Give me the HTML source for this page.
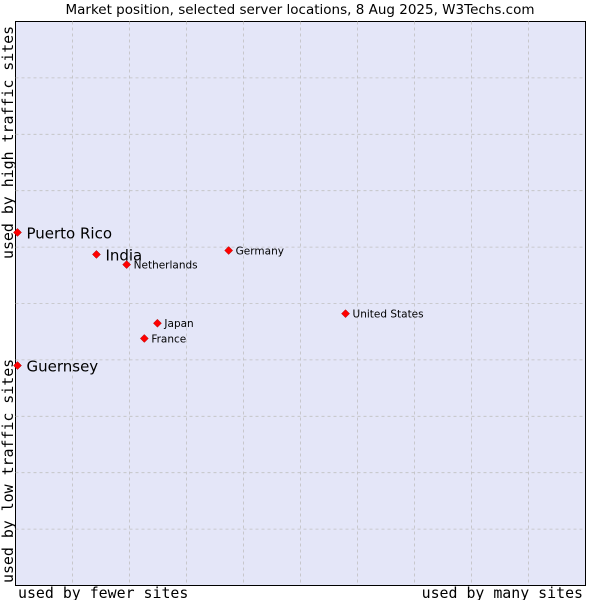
<!DOCTYPE html>
<html><head><meta charset="utf-8"><style>
body{margin:0;background:#fff;width:600px;height:600px;overflow:hidden}
svg{font-family:"DejaVu Sans","Liberation Sans",sans-serif}
</style></head><body>
<svg width="600" height="600">
<text x="300" y="14" text-anchor="middle" font-size="13.5" fill="#000">Market position, selected server locations, 8 Aug 2025, W3Techs.com</text>
<rect x="15.5" y="21.5" width="570" height="564" fill="#e4e6f8" stroke="#000"/>
<g id="grid"></g>
<g id="pts"></g>
<text x="18" y="598" font-family="DejaVu Sans Mono, Liberation Mono, monospace" font-size="14.9">used by fewer sites</text>
<text x="583" y="598" text-anchor="end" font-family="DejaVu Sans Mono, Liberation Mono, monospace" font-size="14.9">used by many sites</text>
<text transform="translate(13,583) rotate(-90)" font-family="DejaVu Sans Mono, Liberation Mono, monospace" font-size="14.9">used by low traffic sites</text>
<text transform="translate(13,259) rotate(-90)" font-family="DejaVu Sans Mono, Liberation Mono, monospace" font-size="14.9">used by high traffic sites</text>
</svg>
<script>
const labels=["Puerto Rico","India","Netherlands","Germany","United States","Japan","France","Guernsey"];
const xs=[0.35,14.2,19.5,37.4,57.9,24.9,22.6,0.35];
const ys=[62.6,58.7,56.9,59.4,48.2,46.5,43.8,39.0];
const big=[true,true,false,false,false,false,false,true];
const L=15.5,T=21.5,W=570,H=564;
const sx=v=>L+v/100*W, sy=v=>T+H-v/100*H;
const ns="http://www.w3.org/2000/svg";
const g=document.getElementById('grid');
for(let i=1;i<10;i++){
 const a=document.createElementNS(ns,'line');
 
 
 a.setAttribute('x1',L+i*W/10);a.setAttribute('x2',L+i*W/10);a.setAttribute('y1',T);a.setAttribute('y2',T+H);
 a.setAttribute('stroke','#c0c0c0');a.setAttribute('stroke-width','0.8');a.setAttribute('stroke-dasharray','3,3');g.appendChild(a);
 const b=document.createElementNS(ns,'line');
 
 
 b.setAttribute('y1',T+i*H/10);b.setAttribute('y2',T+i*H/10);b.setAttribute('x1',L);b.setAttribute('x2',L+W);
 b.setAttribute('stroke','#c0c0c0');b.setAttribute('stroke-width','0.8');b.setAttribute('stroke-dasharray','3,3');g.appendChild(b);
}
const p=document.getElementById('pts');
labels.forEach((n,i)=>{
 const x=sx(xs[i]),y=sy(ys[i]);
 const d=document.createElementNS(ns,'path');
 
 
 d.setAttribute('d',`M${x} ${y-4}L${x+4} ${y}L${x} ${y+4}L${x-4} ${y}Z`);
 d.setAttribute('fill','#f00');d.setAttribute('stroke','#a00');d.setAttribute('stroke-width','0.5');p.appendChild(d);
 const t=document.createElementNS(ns,'text');
 
 
 t.setAttribute('x',x+(big[i]?9:7));t.setAttribute('y',y+(big[i]?6:4));
 t.setAttribute('font-size',big[i]?'15':'10.5');t.textContent=n;p.appendChild(t);
});
</script>
</body></html>
